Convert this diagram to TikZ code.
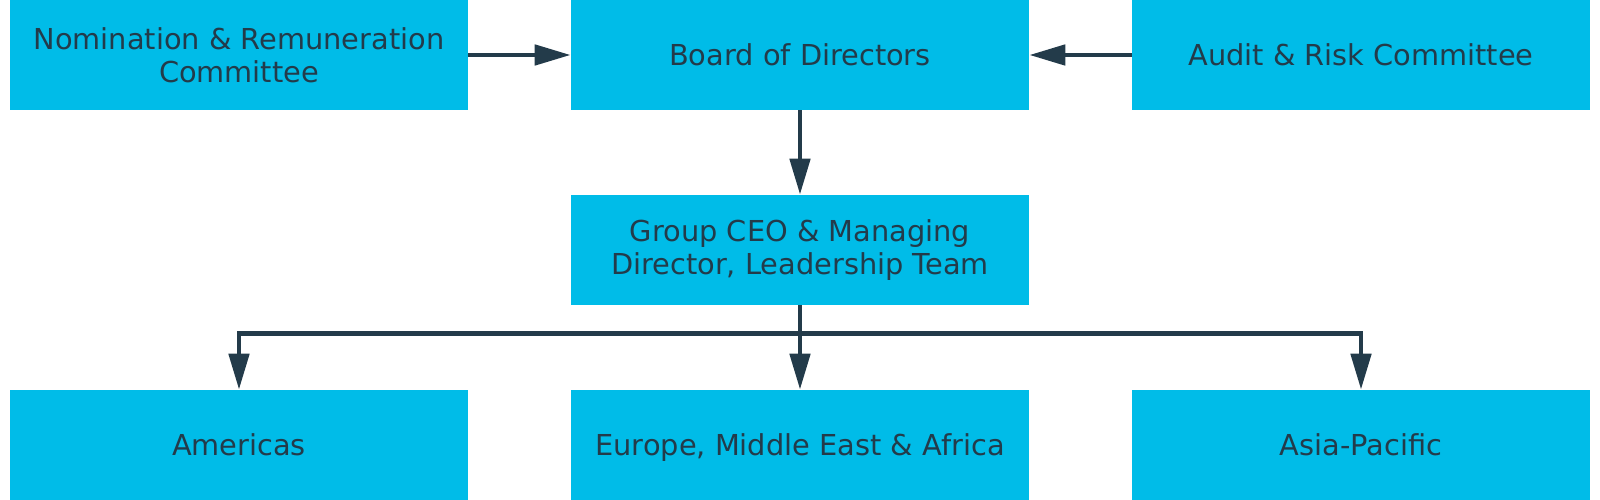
\documentclass[tikz,border=0pt]{standalone}
\usepackage{fontspec}
\setmainfont{DejaVu Sans}
\usetikzlibrary{arrows.meta}
\definecolor{boxblue}{HTML}{00BCE8}
\definecolor{linedark}{HTML}{233B4A}
\tikzset{
  orgbox/.style={fill=boxblue, text=linedark, minimum width=11.45cm, minimum height=2.75cm, inner sep=0pt, font=\fontsize{20.5}{23.5}\selectfont},
  oneline/.style={text height=14.9pt, text depth=0pt},
  twoline/.style={align=center},
  link/.style={draw=linedark, line width=0.12cm, -{Triangle[length=0.9cm, width=0.5cm]}}
}
\begin{document}
\begin{tikzpicture}[node distance=4.875cm, auto]
        \useasboundingbox (0,0) rectangle (40,12.5);
        % Nodes
        \node (board) [orgbox, oneline] at (20,11.125) {Board of Directors};
        \node (nomination) [orgbox, twoline, left of=board, node distance=14.025cm] {Nomination \& Remuneration\\Committee};
        \node (audit) [orgbox, oneline, right of=board, node distance=14.025cm] {Audit \& Risk Committee};
        \node (ceo) [orgbox, twoline, below of=board] {Group CEO \& Managing\\Director, Leadership Team};
        \node (emea) [orgbox, oneline, below of=ceo] {Europe, Middle East \& Africa};
        \node (americas) [orgbox, oneline, left of=emea, node distance=14.025cm] {Americas};
        \node (apac) [orgbox, oneline, right of=emea, node distance=14.025cm] {Asia-Pacific};

        % Edges
        \draw[link] (nomination) -- (board);
        \draw[link] (audit) -- (board);
        \draw[link] (board) -- (ceo);
        \draw[link] (ceo) -- (emea);
        \draw[link] (ceo.south) -- ++(0,-0.7) -| (americas);
        \draw[link] (ceo.south) -- ++(0,-0.7) -| (apac);
    \end{tikzpicture}
\end{document}
